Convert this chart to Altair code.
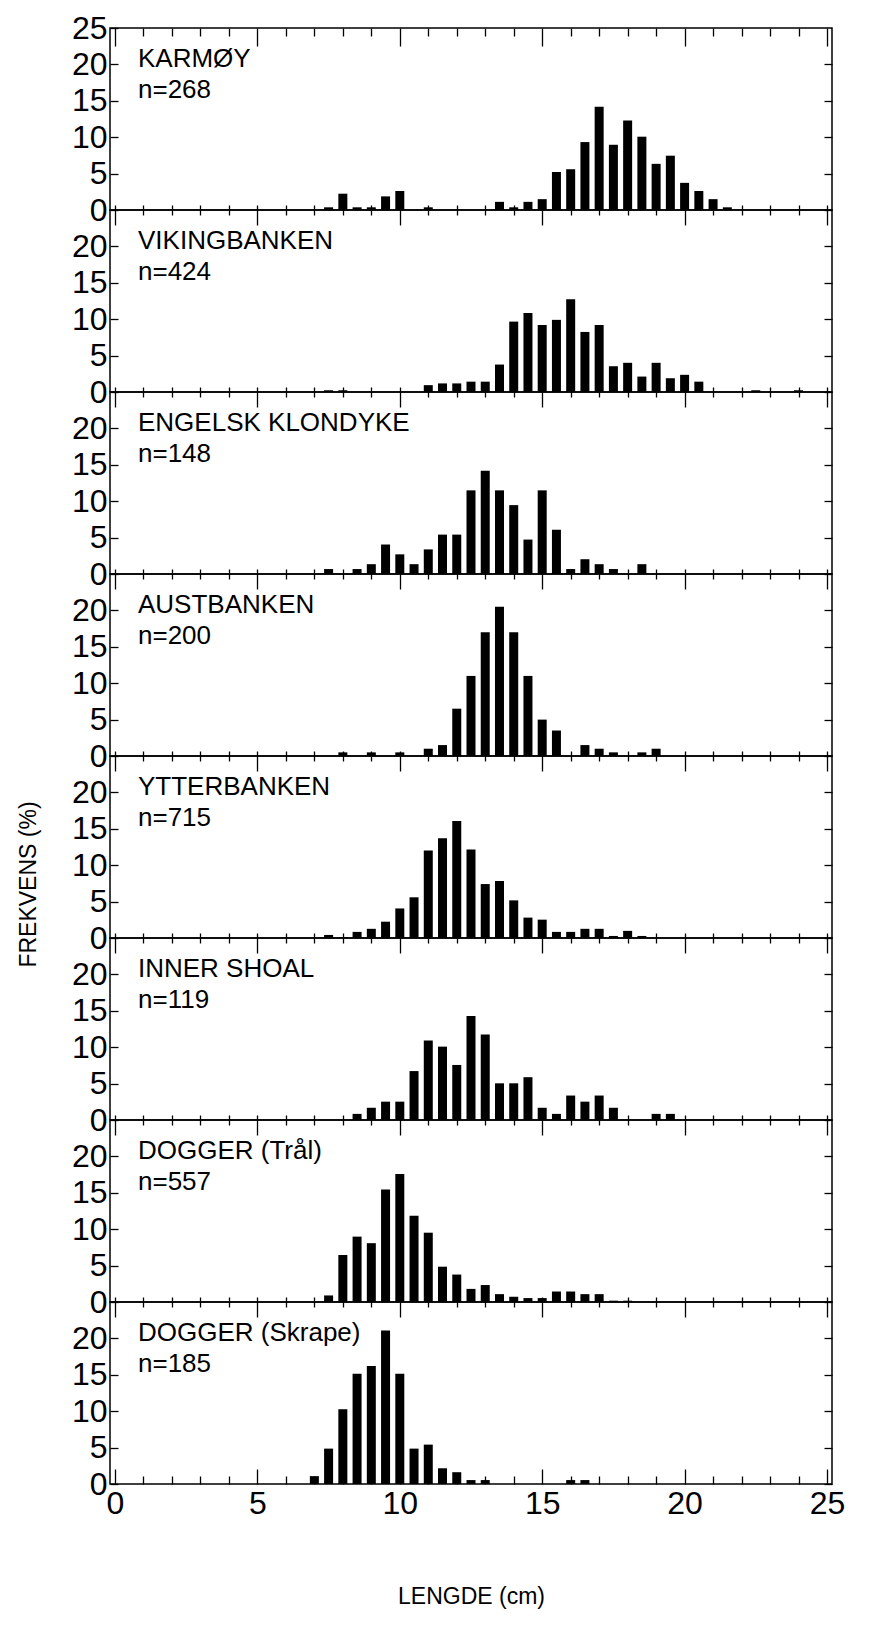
import altair as alt
import pandas as pd

# ---------------- data ----------------
STATIONS = ["KARMØY", "VIKINGBANKEN", "ENGELSK KLONDYKE", "AUSTBANKEN",
            "YTTERBANKEN", "INNER SHOAL", "DOGGER (Trål)", "DOGGER (Skrape)"]
N_FISH = [268, 424, 148, 200, 715, 119, 557, 185]

KARMOY_LEN = [7.5, 8.0, 8.5, 9.0, 9.5, 10.0, 11.0, 13.5, 14.0, 14.5, 15.0, 15.5,
              16.0, 16.5, 17.0, 17.5, 18.0, 18.5, 19.0, 19.5, 20.0, 20.5, 21.0, 21.5]
KARMOY_PCT = [0.37, 2.24, 0.37, 0.37, 1.87, 2.61, 0.37, 1.12, 0.37, 1.12, 1.49, 5.22,
              5.60, 9.33, 14.18, 8.96, 12.31, 10.07, 6.34, 7.46, 3.73, 2.61, 1.49, 0.37]

VIKING_LEN = [7.5, 8.0, 11.0, 11.5, 12.0, 12.5, 13.0, 13.5, 14.0, 14.5, 15.0, 15.5,
              16.0, 16.5, 17.0, 17.5, 18.0, 18.5, 19.0, 19.5, 20.0, 20.5, 22.5, 24.0]
VIKING_PCT = [0.24, 0.24, 0.94, 1.18, 1.18, 1.42, 1.42, 3.77, 9.67, 10.85, 9.20, 9.91,
              12.74, 8.25, 9.20, 3.54, 4.01, 2.12, 4.01, 1.89, 2.36, 1.42, 0.24, 0.24]

ENGELSK_LEN = [7.5, 8.5, 9.0, 9.5, 10.0, 10.5, 11.0, 11.5, 12.0, 12.5, 13.0, 13.5,
               14.0, 14.5, 15.0, 15.5, 16.0, 16.5, 17.0, 17.5, 18.5]
ENGELSK_PCT = [0.68, 0.68, 1.35, 4.05, 2.70, 1.35, 3.38, 5.41, 5.41, 11.49, 14.19, 11.49,
               9.46, 4.73, 11.49, 6.08, 0.68, 2.03, 1.35, 0.68, 1.35]

AUST_LEN = [8.0, 9.0, 10.0, 11.0, 11.5, 12.0, 12.5, 13.0, 13.5, 14.0, 14.5, 15.0,
            15.5, 16.5, 17.0, 17.5, 18.5, 19.0]
AUST_PCT = [0.5, 0.5, 0.5, 1.0, 1.5, 6.5, 11.0, 17.0, 20.5, 17.0, 11.0, 5.0,
            3.5, 1.5, 1.0, 0.5, 0.5, 1.0]

YTTER_LEN = [7.5, 8.0, 8.5, 9.0, 9.5, 10.0, 10.5, 11.0, 11.5, 12.0, 12.5, 13.0,
             13.5, 14.0, 14.5, 15.0, 15.5, 16.0, 16.5, 17.0, 17.5, 18.0, 18.5]
YTTER_PCT = [0.42, 0.14, 0.84, 1.26, 2.24, 4.06, 5.59, 12.03, 13.71, 16.08, 12.17, 7.41,
             7.83, 5.17, 2.80, 2.52, 0.84, 0.84, 1.26, 1.26, 0.28, 0.98, 0.28]

INNER_LEN = [8.5, 9.0, 9.5, 10.0, 10.5, 11.0, 11.5, 12.0, 12.5, 13.0, 13.5, 14.0,
             14.5, 15.0, 15.5, 16.0, 16.5, 17.0, 17.5, 19.0, 19.5]
INNER_PCT = [0.84, 1.68, 2.52, 2.52, 6.72, 10.92, 10.08, 7.56, 14.29, 11.76, 5.04, 5.04,
             5.88, 1.68, 0.84, 3.36, 2.52, 3.36, 1.68, 0.84, 0.84]

TRAL_LEN = [7.5, 8.0, 8.5, 9.0, 9.5, 10.0, 10.5, 11.0, 11.5, 12.0, 12.5, 13.0,
            13.5, 14.0, 14.5, 15.0, 15.5, 16.0, 16.5, 17.0, 17.5, 18.0]
TRAL_PCT = [0.90, 6.46, 8.98, 8.08, 15.44, 17.59, 11.85, 9.52, 4.85, 3.77, 1.80, 2.33,
            1.08, 0.72, 0.54, 0.54, 1.44, 1.44, 1.08, 1.08, 0.18, 0.18]

SKRAPE_LEN = [7.0, 7.5, 8.0, 8.5, 9.0, 9.5, 10.0, 10.5, 11.0, 11.5, 12.0, 12.5, 13.0, 16.0, 16.5]
SKRAPE_PCT = [1.08, 4.86, 10.27, 15.14, 16.22, 21.08, 15.14, 4.86, 5.41, 2.16, 1.62, 0.54,
              0.54, 0.54, 0.54]

LENS = [KARMOY_LEN, VIKING_LEN, ENGELSK_LEN, AUST_LEN, YTTER_LEN, INNER_LEN, TRAL_LEN, SKRAPE_LEN]
PCTS = [KARMOY_PCT, VIKING_PCT, ENGELSK_PCT, AUST_PCT, YTTER_PCT, INNER_PCT, TRAL_PCT, SKRAPE_PCT]

X_TICKS = list(range(0, 26))
X_LABELS = [0, 5, 10, 15, 20, 25]
Y_TICKS = [0, 5, 10, 15, 20]

# ---------------- style ----------------
W, H = 722, 182
FONT = "Liberation Sans Narrow, Liberation Sans, Arial, sans-serif"
MAJOR = "datum.value % 5 === 0"
TICK_W = 1.3


def tsize(major, minor):
    return {"condition": {"test": MAJOR, "value": major}, "value": minor}


def panel(i):
    df = pd.DataFrame({"length": LENS[i], "pct": PCTS[i]})
    first = i == 0
    last = i == len(STATIONS) - 1
    yvals = Y_TICKS + [25] if first else Y_TICKS
    xs = alt.Scale(domain=[0, 25], nice=False, zero=False)
    ys = alt.Scale(domain=[0, 25], nice=False)

    if last:
        xax = alt.Axis(orient="bottom", values=X_LABELS, ticks=False, tickSize=0,
                       domain=False, grid=False, labelFlush=False, labelFont=FONT,
                       labelFontSize=32, labelPadding=4, labelColor="black",
                       title="LENGDE (cm)", titleFont=FONT, titleFontSize=23,
                       titleFontWeight="normal", titleColor="black", titlePadding=66)
    else:
        xax = alt.Axis(orient="bottom", values=X_TICKS, labels=False, domain=False,
                       grid=False, offset=-5, tickColor="black", tickWidth=TICK_W,
                       tickSize=tsize(20, 10), title=None)

    ykw = dict(title=None)
    if i == 4:
        ykw = dict(title="FREKVENS (%)", titleFont=FONT, titleFontSize=23,
                   titleFontWeight="normal", titleColor="black", titleAngle=270,
                   titleBaseline="middle", titleAlign="center", titleX=-90, titleY=128)
    yax = alt.Axis(orient="left", values=yvals, offset=-8, tickSize=8, tickColor="black",
                   tickWidth=TICK_W, domain=False, grid=False, labelFont=FONT,
                   labelFontSize=32, labelPadding=3, labelColor="black",
                   labelOverlap=False, **ykw)

    bars = alt.Chart(df).mark_bar(color="black", size=9).encode(
        x=alt.X("length:Q", scale=xs, axis=xax),
        y=alt.Y("pct:Q", scale=ys, axis=yax),
    )

    if first:
        xax2 = alt.Axis(orient="bottom", offset=-H, values=X_TICKS, labels=False,
                        domain=False, grid=False, tickColor="black", tickWidth=TICK_W,
                        tickSize=tsize(18, 8), title=None)
    elif last:
        xax2 = alt.Axis(orient="top", offset=-H, values=X_TICKS, labels=False,
                        domain=False, grid=False, tickColor="black", tickWidth=TICK_W,
                        tickSize=tsize(15, 8), title=None)
    else:
        xax2 = None
    yax2 = alt.Axis(orient="right", offset=-8, tickSize=8, values=Y_TICKS, labels=False,
                    domain=False, grid=False, tickColor="black", tickWidth=TICK_W,
                    title=None)
    frame = alt.Chart(df).mark_point(opacity=0).encode(
        x=alt.X("length:Q", scale=xs, axis=xax2),
        y=alt.Y("pct:Q", scale=ys, axis=yax2),
    )

    lab = pd.DataFrame({"name": [STATIONS[i]], "n": [f"n={N_FISH[i]}"]})
    name = alt.Chart(lab).mark_text(align="left", baseline="middle", font=FONT,
                                    fontSize=26, color="black").encode(
        x=alt.value(28), y=alt.value(31), text="name:N")
    count = alt.Chart(lab).mark_text(align="left", baseline="middle", font=FONT,
                                     fontSize=26, color="black").encode(
        x=alt.value(28), y=alt.value(62), text="n:N")

    return alt.layer(bars, frame, name, count).resolve_axis(
        x="independent", y="independent").properties(width=W, height=H)


chart = alt.vconcat(*[panel(i) for i in range(len(STATIONS))], spacing=0,
                    bounds="flush").properties(
    padding={"left": 8, "top": 3, "right": 5, "bottom": 5},
    background="white",
).configure_view(stroke="black", strokeWidth=1.5)

chart.save("out.html", embed_options={"renderer": "svg", "actions": False})
